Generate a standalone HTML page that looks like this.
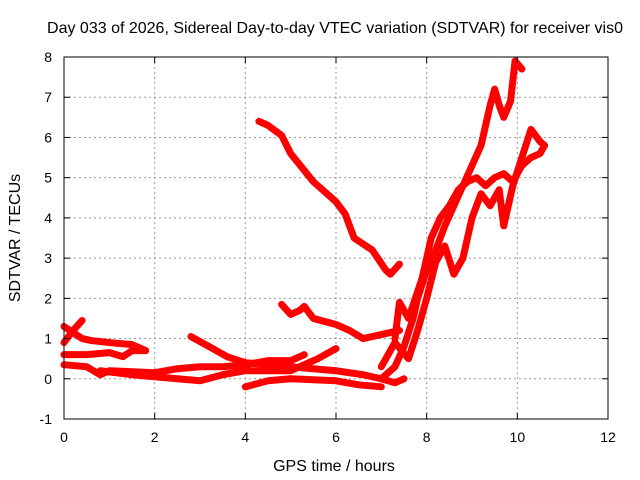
<!DOCTYPE html>
<html><head><meta charset="utf-8"><style>
body{margin:0;background:#fff}
svg{display:block;font-family:"Liberation Sans",sans-serif}
</style></head><body>
<svg id="chart" width="640" height="480" viewBox="0 0 640 480">
<rect width="640" height="480" fill="#fff"/>
<text x="335" y="33" font-size="16" text-anchor="middle">Day 033 of 2026, Sidereal Day-to-day VTEC variation (SDTVAR) for receiver vis0</text>
<g id="grid"></g>
<g id="series"></g>
<rect x="64" y="57" width="544" height="362" fill="none" stroke="#000" stroke-width="1"/>
<g id="ticks"></g>
<text x="334" y="471" font-size="16" text-anchor="middle">GPS time / hours</text>
<text x="20" y="238" font-size="16" text-anchor="middle" transform="rotate(-90 20 238)">SDTVAR / TECUs</text>
</svg>
<script>
const xTicks=[0,2,4,6,8,10,12];
const yTicks=[-1,0,1,2,3,4,5,6,7,8];
const trackA=[[4.3,6.4],[4.5,6.3],[4.8,6.05],[5.0,5.6],[5.5,4.9],[6.0,4.4],[6.2,4.1],[6.4,3.5],[6.8,3.2],[7.1,2.7],[7.2,2.6],[7.4,2.85]];
const trackB=[[4.8,1.85],[5.0,1.6],[5.2,1.7],[5.3,1.8],[5.5,1.5],[6.0,1.35],[6.3,1.2],[6.6,1.0],[7.0,1.1],[7.4,1.2]];
const trackC=[[0,1.3],[0.4,1.0],[0.6,0.95],[1.0,0.9],[1.5,0.85],[1.8,0.7]];
const trackC2=[[0,0.9],[0.2,1.2],[0.4,1.45]];
const trackD=[[0,0.6],[0.5,0.6],[1.0,0.65],[1.3,0.55],[1.5,0.7],[1.8,0.7]];
const trackE=[[0,0.35],[0.5,0.3],[0.8,0.1],[1.0,0.2],[2.0,0.15],[2.5,0.25],[3.0,0.3],[3.5,0.3],[4.0,0.35],[4.5,0.45],[5.0,0.45],[5.3,0.6]];
const trackF=[[2.8,1.05],[3.2,0.8],[3.6,0.55],[4.0,0.4],[4.5,0.35],[5.0,0.3],[6.0,0.2],[6.6,0.1],[7.0,0.0],[7.3,-0.1],[7.5,0.0]];
const trackG=[[0.8,0.2],[1.5,0.1],[2.5,0.0],[3.0,-0.05],[3.5,0.1],[4.0,0.2],[5.0,0.2],[5.6,0.5],[6.0,0.75]];
const trackH=[[4.0,-0.2],[4.5,-0.05],[5.0,0.0],[6.0,-0.05],[6.5,-0.15],[7.0,-0.2]];
const trackR1=[[7.0,0.0],[7.3,0.3],[7.5,0.8],[7.7,1.5],[7.8,2.0],[8.0,2.7],[8.2,3.2],[8.4,3.8],[8.6,4.3],[8.8,4.8],[9.0,5.3],[9.2,5.8],[9.4,6.8],[9.5,7.2],[9.6,6.8],[9.7,6.5],[9.85,6.9],[9.95,7.9],[10.1,7.7]];
const trackR2=[[7.3,1.0],[7.4,1.9],[7.6,1.5],[7.9,2.5],[8.1,3.5],[8.3,4.0],[8.5,4.3],[8.7,4.7],[8.9,4.9],[9.1,5.0],[9.3,4.8],[9.5,5.0],[9.7,5.1],[9.9,4.9],[10.1,5.3],[10.3,5.5],[10.5,5.6],[10.6,5.8]];
const trackR3=[[7.0,0.3],[7.3,0.9],[7.6,0.5],[7.8,1.2],[8.0,2.0],[8.2,2.9],[8.4,3.3],[8.6,2.6],[8.8,3.0],[9.0,4.0],[9.2,4.6],[9.4,4.3],[9.6,4.7],[9.7,3.8],[9.9,4.8],[10.1,5.5],[10.3,6.2],[10.5,5.9],[10.6,5.8]];
const tracks=[trackA,trackB,trackC,trackC2,trackD,trackE,trackF,trackG,trackH,trackR1,trackR2,trackR3];
const NS='http://www.w3.org/2000/svg';
const X=v=>64+v*(544/12);
const Y=v=>57+(8-v)*(362/9);
const grid=document.getElementById('grid'),ticks=document.getElementById('ticks'),ser=document.getElementById('series');
function mk(tag,attrs,parent){const e=document.createElementNS(NS,tag);for(const k in attrs)e.setAttribute(k,attrs[k]);parent.appendChild(e);return e;}
xTicks.forEach(t=>{
 if(t>0&&t<12){const g=mk('line',{x1:X(t),x2:X(t),y1:57,y2:419,stroke:'#999','stroke-dasharray':'2,3'},grid);
 
 }
 const l=mk('text',{x:X(t),y:442,'font-size':14,'text-anchor':'middle'},ticks);l.textContent=t;
 
 
 mk('line',{x1:X(t),x2:X(t),y1:419,y2:413,stroke:'#000'},ticks);
 mk('line',{x1:X(t),x2:X(t),y1:57,y2:63,stroke:'#000'},ticks);
});
yTicks.forEach(t=>{
 if(t>-1&&t<8){const g=mk('line',{x1:64,x2:608,y1:Y(t),y2:Y(t),stroke:'#999','stroke-dasharray':'2,3'},grid);
 
 }
 const l=mk('text',{x:52,y:Y(t)+5,'font-size':14,'text-anchor':'end'},ticks);l.textContent=t;
 
 
 mk('line',{x1:64,x2:70,y1:Y(t),y2:Y(t),stroke:'#000'},ticks);
 mk('line',{x1:608,x2:602,y1:Y(t),y2:Y(t),stroke:'#000'},ticks);
});
tracks.forEach(tr=>{
 const p=mk('polyline',{points:tr.map(d=>X(d[0])+','+Y(d[1])).join(' '),fill:'none',stroke:'#f00','stroke-width':7,'stroke-linejoin':'round','stroke-linecap':'round'},ser);
 
 
});
</script>
</body></html>
